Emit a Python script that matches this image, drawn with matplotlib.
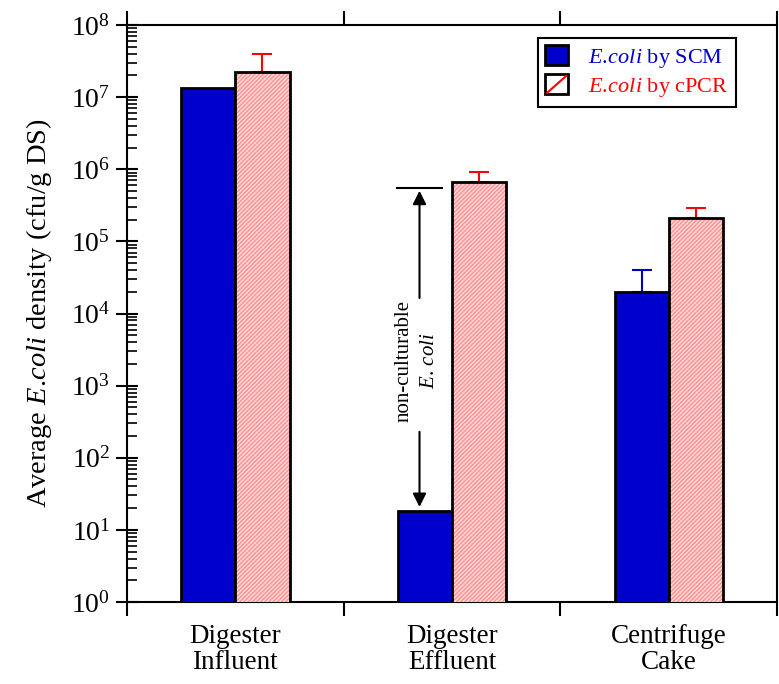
import matplotlib
matplotlib.use("Agg")
import matplotlib.pyplot as plt
import numpy as np
from matplotlib.patches import Patch, Rectangle
from matplotlib.lines import Line2D
from matplotlib.legend_handler import HandlerBase
from matplotlib.ticker import LogLocator, LogFormatterSciNotation, NullFormatter, FixedLocator

plt.rcParams['font.family'] = ['Liberation Serif', 'DejaVu Serif']
plt.rcParams['mathtext.fontset'] = 'custom'
plt.rcParams['mathtext.rm'] = 'Liberation Serif'
plt.rcParams['mathtext.it'] = 'Liberation Serif:italic'
plt.rcParams['hatch.linewidth'] = 1.0

categories = ["Digester\nInfluent", "Digester\nEffluent", "Centrifuge\nCake"]
scm_values = [1.35e7, 18, 2.0e4]
scm_err_top = [None, None, 4.0e4]
pcr_values = [2.25e7, 6.7e5, 2.1e5]
pcr_err_top = [3.9e7, 9.1e5, 2.9e5]

blue = '#0000cc'
pink = '#ffd8d8'
hatch_red = '#ff9090'


class DiagHandler(HandlerBase):
    def create_artists(self, legend, orig_handle, xdescent, ydescent,
                       width, height, fontsize, trans):
        r = Rectangle((-xdescent, -ydescent), width, height, facecolor='white',
                      edgecolor='black', linewidth=2, transform=trans)
        ln = Line2D([-xdescent + 1, -xdescent + width - 1],
                    [-ydescent + 1, -ydescent + height - 1],
                    color='red', linewidth=1.5, transform=trans)
        return [r, ln]


fig = plt.figure(figsize=(7.79, 6.84), dpi=100)
ax = fig.add_axes([127/779, 1-602/684, 650/779, 577/684])

x = np.arange(len(categories))
w = 0.25
ax.bar(x - w/2, scm_values, width=w, color=blue, edgecolor='black', linewidth=2, zorder=3)
ax.bar(x + w/2, pcr_values, width=w, color=pink, edgecolor=hatch_red, hatch='////////', linewidth=0, zorder=3)
ax.bar(x + w/2, pcr_values, width=w, fill=False, edgecolor='black', linewidth=2, zorder=4)

for i in range(len(categories)):
    if scm_err_top[i] is not None:
        ax.errorbar(x[i] - w/2, scm_values[i], yerr=[[0], [scm_err_top[i] - scm_values[i]]],
                    fmt='none', ecolor=blue, elinewidth=1.5, capsize=7, capthick=1.5, zorder=2)
    ax.errorbar(x[i] + w/2, pcr_values[i], yerr=[[0], [pcr_err_top[i] - pcr_values[i]]],
                fmt='none', ecolor='red', elinewidth=1.5, capsize=7, capthick=1.5, zorder=2)

ax.set_yscale('log')
ax.set_ylim(1, 1e8)
ax.set_xlim(-0.5, 2.5)

ax.yaxis.set_major_locator(LogLocator(base=10, numticks=20))
ax.yaxis.set_major_formatter(LogFormatterSciNotation())
ax.yaxis.set_minor_locator(LogLocator(base=10, subs=np.arange(2, 10), numticks=20))
ax.yaxis.set_minor_formatter(NullFormatter())
ax.tick_params(axis='y', which='major', direction='inout', length=16, width=1.5, labelsize=20, pad=4)
ax.tick_params(axis='y', which='minor', direction='in', length=7, width=1.2)

ax.xaxis.set_major_locator(FixedLocator([-0.5, 0.5, 1.5, 2.5]))
ax.xaxis.set_major_formatter(NullFormatter())
ax.xaxis.set_minor_locator(FixedLocator(list(x)))
ax.set_xticklabels(categories, minor=True, linespacing=1.05)
ax.tick_params(axis='x', which='major', direction='out', length=10, width=1.5, top=True)
ax.tick_params(axis='x', which='minor', length=0, labelsize=19.5, pad=16)

for s in ax.spines.values():
    s.set_linewidth(1.5)

ax.set_ylabel(r'Average $\it{E.\!coli}$ density (cfu/g DS)', fontsize=20.5, labelpad=12)

# annotation
ax.plot([0.745, 0.955], [5.5e5, 5.5e5], color='black', lw=1.5, zorder=5)
ax.annotate('', xy=(0.85, 5.5e5), xytext=(0.85, 1.5e4),
            arrowprops=dict(arrowstyle='-|>', color='black', lw=1.5, mutation_scale=20))
ax.annotate('', xy=(0.85, 19), xytext=(0.85, 250),
            arrowprops=dict(arrowstyle='-|>', color='black', lw=1.5, mutation_scale=20))
ax.text(0.78, 2.2e3, 'non-culturable', rotation=90, ha='center', va='center', fontsize=15)
ax.text(0.895, 2.2e3, r'$\it{E.\,coli}$', rotation=90, ha='center', va='center', fontsize=15)

h1 = Patch(facecolor=blue, edgecolor='black', linewidth=2)
h2 = Patch(facecolor='white', edgecolor='black', linewidth=2)
leg = ax.legend([h1, h2], [r'$\it{E.\!coli}$ by SCM', r'$\it{E.\!coli}$ by cPCR'],
                handler_map={h2: DiagHandler()},
                loc='upper right', bbox_to_anchor=(0.937, 0.978), fontsize=16,
                frameon=True, fancybox=False, edgecolor='black', framealpha=1,
                handlelength=1.0, handleheight=1.0, handletextpad=0.9, borderpad=0.35,
                labelspacing=0.2, borderaxespad=0)
leg.get_frame().set_linewidth(1.5)
for t, c in zip(leg.get_texts(), [blue, 'red']):
    t.set_color(c)

fig.savefig('out.png', dpi=100)
